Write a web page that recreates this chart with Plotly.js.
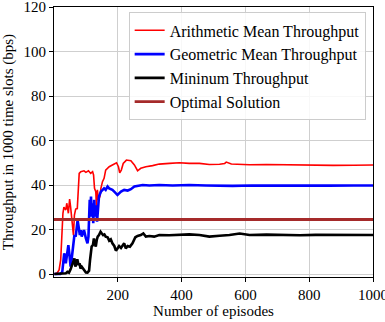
<!DOCTYPE html>
<html>
<head>
<meta charset="utf-8">
<script src="https://cdn.plot.ly/plotly-3.0.1.min.js"></script>
<style>
html,body{margin:0;padding:0;background:#fff;}
#chart{width:385px;height:322px;}
#chart svg text{font-family:'Liberation Serif',serif !important;}
</style>
</head>
<body>
<div id="chart"></div>
<script>
const seriesNames = ["Arithmetic Mean Throughput", "Geometric Mean Throughput", "Mininum Throughput", "Optimal Solution"];

const arithX = [1,10,16,21,28,31,37,40,45,49,52,58,61,64,68,73,77,79,84,94,100,108,115,121,124,127,131,133,136,139,144,147,152,157,162,173,183,196,202,206,211,217,227,241,252,262,272,288,309,330,362,393,424,456,487,519,535,540,556,613,666,718,802,875,940,1000];
const arithY = [0,0.5,1.8,6.3,27.3,30,28.8,31.8,27.3,33.7,30.2,19.7,17.5,26.5,29.2,29.4,39.3,45.2,46,46.4,45.7,46.4,45.2,46,44.5,38.5,37,30.2,37.8,33.3,34.8,38.5,41.5,43,46.7,48.2,49,50,48.2,45.5,46.7,49.7,51.2,50.9,49,46.4,47.5,48.2,48.7,49.4,49.7,50,49.7,49.7,49.2,49.3,49.7,50.3,49.4,49.1,49.2,49.1,48.7,48.8,48.9,49];

const geoX = [1,20,26,29,32,37,42,45,49,52,55,58,61,64,68,71,74,78,81,84,87,90,94,100,105,108,110,112,114,116,118,121,123,126,129,132,135,138,141,147,152,157,162,168,173,183,192,199,210,220,231,241,252,262,278,299,330,372,424,477,519,560,620,700,780,860,940,1000];
const geoY = [0,0,1,6.3,9.3,4.8,10.8,13,7.8,3.3,6.3,10.8,15.3,17.5,16.8,19.7,24.2,20.5,17.5,19.7,16.8,18.2,19.7,16,13.8,16.8,28.8,33.3,25.8,34.8,25.8,31.8,22.8,33.3,25.8,30.9,23.5,31.8,34.8,37,37.8,38.5,37.8,39.3,38.5,37.8,36.6,35.5,37,37.8,37.5,38.1,39.3,39.7,40,39.8,40,39.8,40,39.8,39.7,39.6,39.8,39.7,39.8,39.7,39.8,39.8];

const minX = [1,37,42,47,52,58,61,64,67,70,73,77,80,83,87,91,95,100,105,110,113,115,118,122,125,128,131,134,137,141,146,150,154,158,162,168,173,178,183,189,194,199,204,210,215,220,225,231,238,246,255,262,272,280,288,299,314,330,361,393,424,456,487,519,550,582,613,666,720,771,820,875,940,1000];
const minY = [0,0.3,1,0.6,2.1,4.5,6.3,7,3.3,5.5,6.6,4,4.8,2.5,3.3,2.5,1.5,0.7,0.6,1.5,6.3,10,12.3,13,16,13.8,12.3,15.3,16.8,17.5,19,18.2,17.5,17.8,16.8,16.5,15,15.6,13.8,12.6,10.5,11.5,12.6,11.7,12.9,13.8,11.5,12.6,12.3,13.8,16.5,17.1,17.5,18.2,16.8,17.1,16.8,17.5,17.4,17.5,17.8,17.5,16.8,17.2,17.5,18.2,17.5,17.7,17.5,17.4,17.6,17.5,17.5,17.5];

const optX = [0, 1000];
const optY = [24.5, 24.5];

const xTicks = [200, 400, 600, 800, 1000];
const yTicks = [0, 20, 40, 60, 80, 100, 120];

const fontFam = "Liberation Serif";

const traces = [
  {x: arithX, y: arithY, name: seriesNames[0], mode: "lines", line: {color: "#ff0000", width: 1.6}},
  {x: geoX, y: geoY, name: seriesNames[1], mode: "lines", line: {color: "#0000ff", width: 2.6}},
  {x: minX, y: minY, name: seriesNames[2], mode: "lines", line: {color: "#000000", width: 2.6}},
  {x: optX, y: optY, name: seriesNames[3], mode: "lines", line: {color: "#a52a2a", width: 2.8}}
];

const axisCommon = {
  showgrid: true, gridcolor: "#cfcfcf", gridwidth: 1,
  showline: true, linecolor: "#000", linewidth: 1, mirror: true,
  ticks: "outside", ticklen: 4, tickcolor: "#000", tickwidth: 1,
  zeroline: false, ticklabeloverflow: "allow",
  tickfont: {family: fontFam, size: 15, color: "#000"}
};

const layout = {
  width: 385, height: 322,
  margin: {l: 54, r: 12, t: 7, b: 45},
  paper_bgcolor: "#fff", plot_bgcolor: "#fff",
  font: {family: fontFam, size: 15, color: "#000"},
  showlegend: true,
  xaxis: Object.assign({}, axisCommon, {
    range: [0, 1000], tickvals: xTicks, ticktext: xTicks.map(String),
    title: {text: "Number of episodes", font: {family: fontFam, size: 15, color: "#000"}, standoff: 3}
  }),
  yaxis: Object.assign({}, axisCommon, {
    range: [-1.35, 120], tickvals: yTicks, ticktext: yTicks.map(String),
    title: {text: "Throughput in 1000 time slots (bps)", font: {family: fontFam, size: 15, color: "#000"}, standoff: 8}
  }),
  legend: {
    x: 0.977, y: 0.98, xanchor: "right", yanchor: "top",
    bgcolor: "rgba(255,255,255,0.85)", bordercolor: "#cccccc", borderwidth: 1,
    font: {family: fontFam, size: 16, color: "#000"}
  }
};

Plotly.newPlot("chart", traces, layout, {displayModeBar: false, staticPlot: true});
</script>
</body>
</html>
